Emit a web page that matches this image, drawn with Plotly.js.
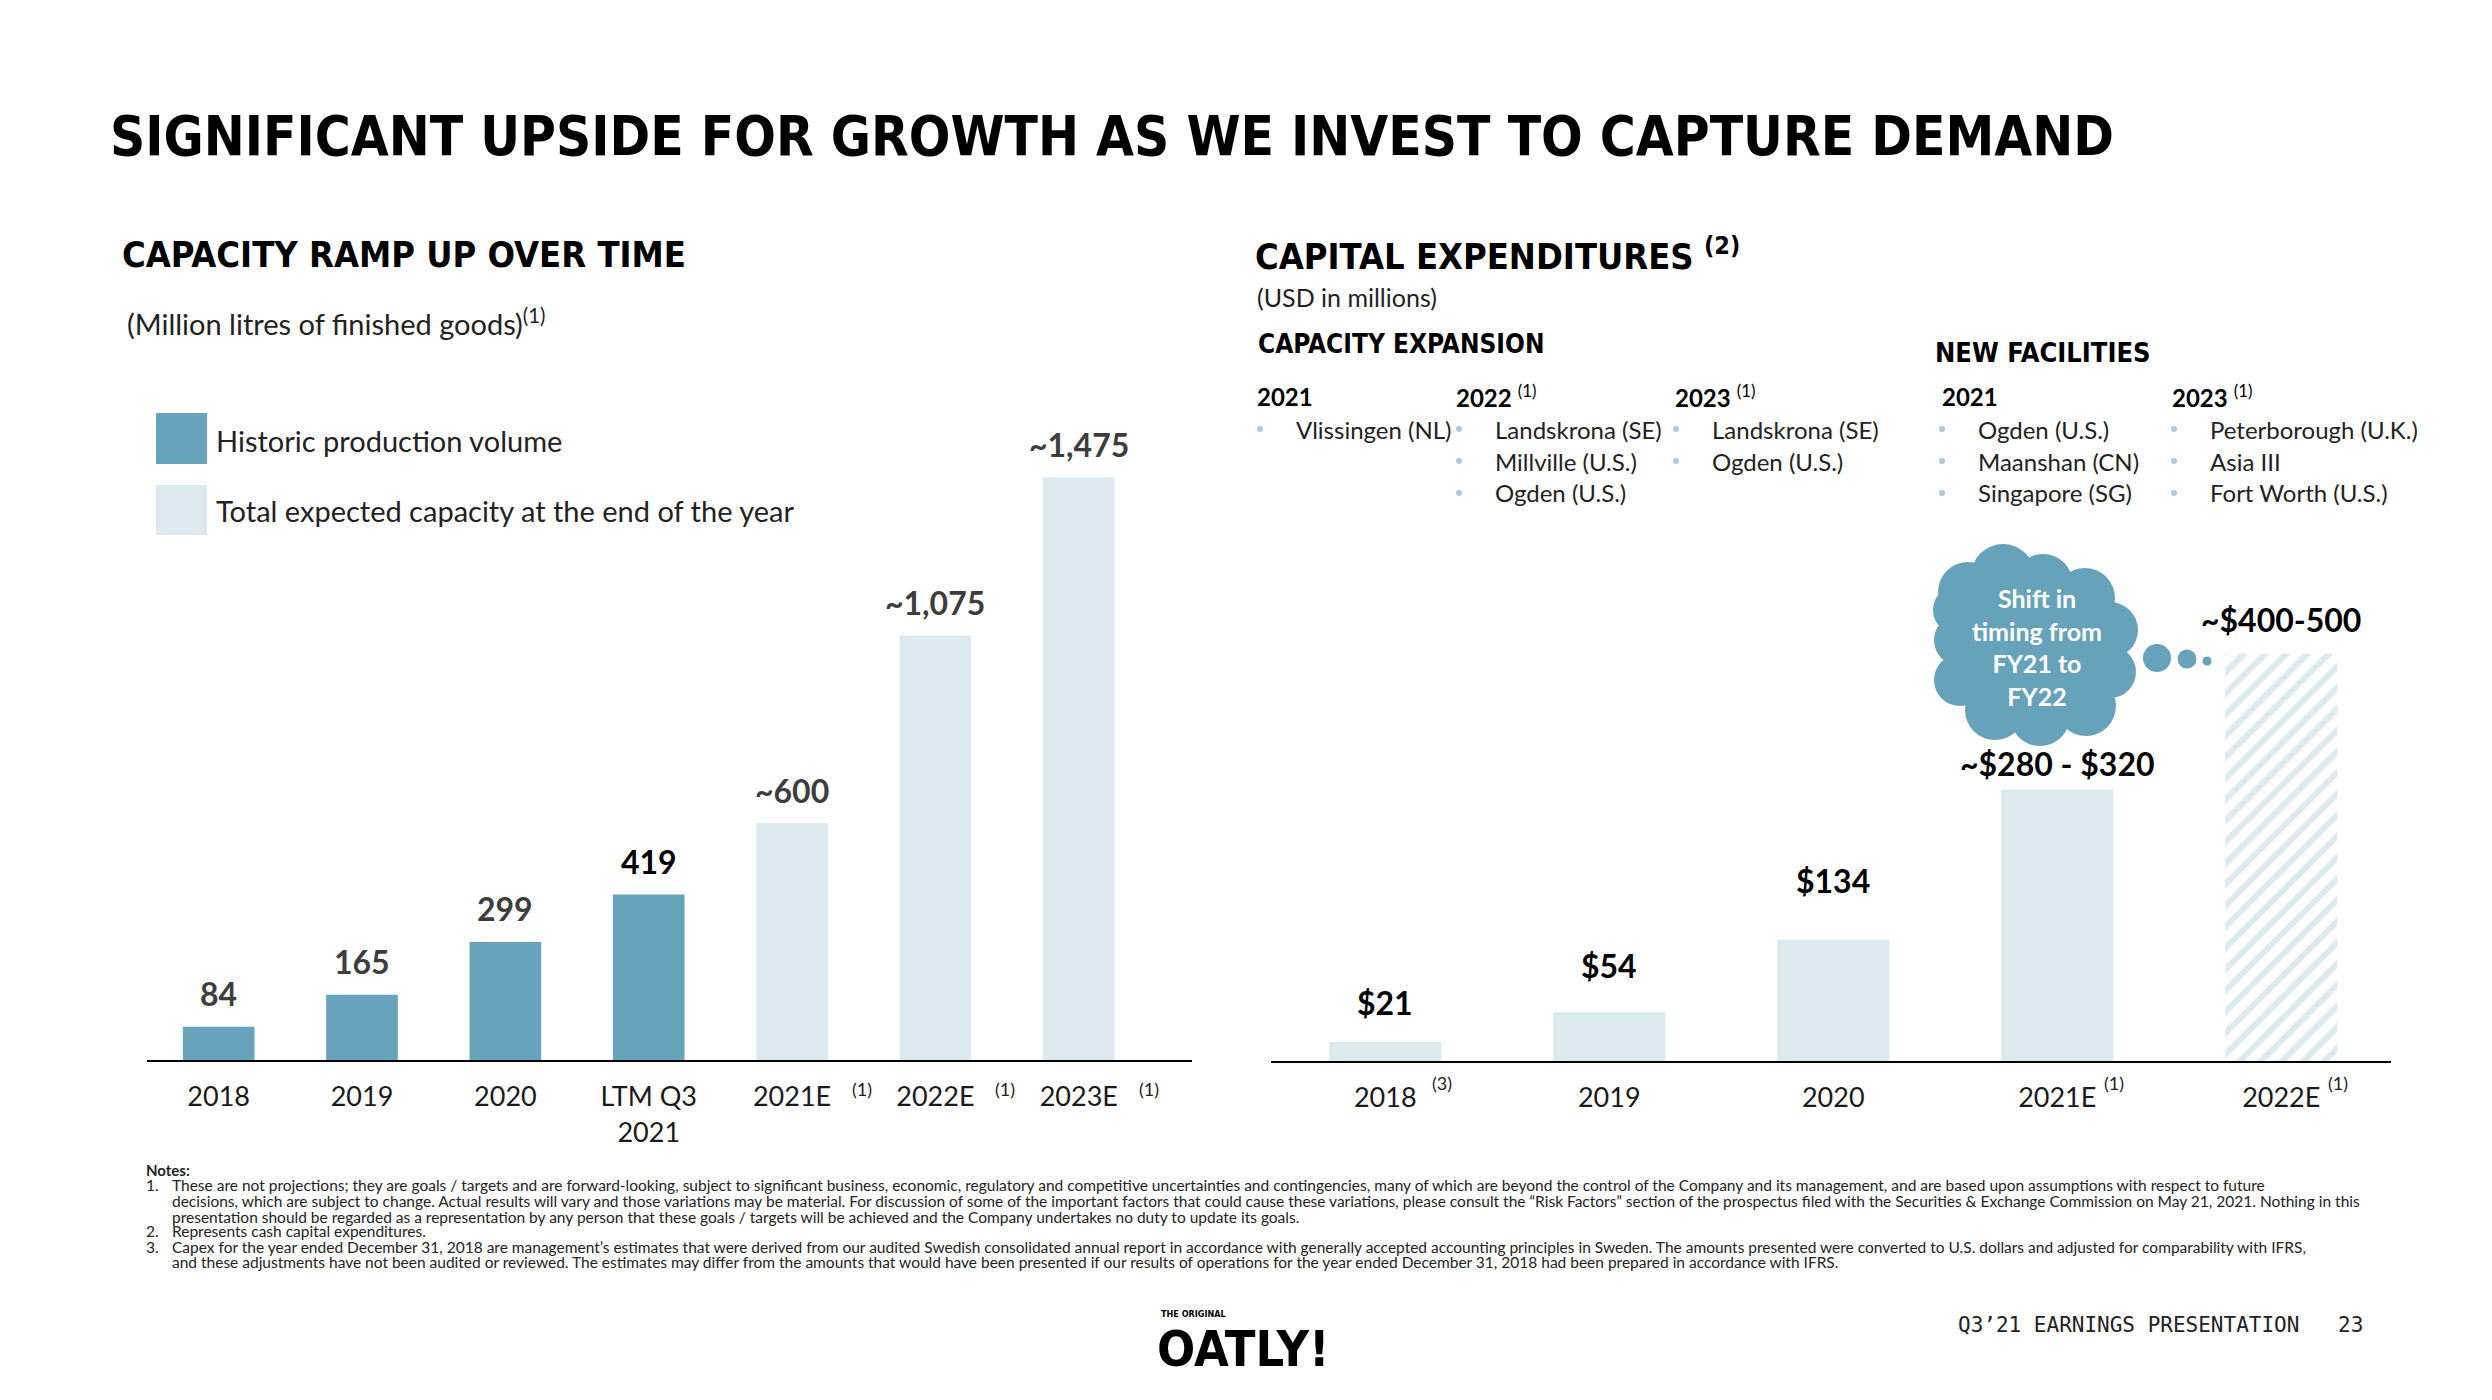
<!DOCTYPE html>
<html><head><meta charset="utf-8">
<script src="https://cdn.plot.ly/plotly-3.0.1.min.js"></script>
<style>html,body{margin:0;padding:0;background:#fff}#chart{width:2492px;height:1400px}</style>
</head><body><div id="chart"></div>
<script>
const W = 2492, H = 1400;

// ---------- Capacity ramp-up data (million litres) ----------
const capCategories = ["2018", "2019", "2020", "LTM Q3 2021", "2021E", "2022E", "2023E"];
const capTickLabels = ["2018", "2019", "2020", "LTM Q3<br>2021", "2021E", "2022E", "2023E"];
const historicCats = ["2018", "2019", "2020", "LTM Q3 2021"];
const historicValues = [84, 165, 299, 419];
const expectedCats = ["2021E", "2022E", "2023E"];
const expectedValues = [600, 1075, 1475];
const historicLabels = ["84", "165", "299", "419"];
const expectedLabels = ["~600", "~1,075", "~1,475"];
const capNoteCats = ["2021E", "2022E", "2023E"];

// ---------- Capital expenditures data (USD millions) ----------
const capexCategories = ["2018", "2019", "2020", "2021E", "2022E"];
const capexCats = ["2018", "2019", "2020", "2021E"];
const capexValues = [21, 54, 134, 300];
const capexPlanCats = ["2022E"];
const capexPlanValues = [450];
const capexLabels = ["$21", "$54", "$134", "~$280 - $320", "~$400-500"];
const capexNotes = ["(3)", "", "", "(1)", "(1)"];

// ---------- Facility lists ----------
const expansion2021 = ["Vlissingen (NL)"];
const expansion2022 = ["Landskrona (SE)", "Millville (U.S.)", "Ogden (U.S.)"];
const expansion2023 = ["Landskrona (SE)", "Ogden (U.S.)"];
const new2021 = ["Ogden (U.S.)", "Maanshan (CN)", "Singapore (SG)"];
const new2023 = ["Peterborough (U.K.)", "Asia III", "Fort Worth (U.S.)"];

const notes = [
  ["1.", "These are not projections; they are goals / targets and are forward-looking, subject to significant business, economic, regulatory and competitive uncertainties and contingencies, many of which are beyond the control of the Company and its management, and are based upon assumptions with respect to future"],
  ["", "decisions, which are subject to change. Actual results will vary and those variations may be material. For discussion of some of the important factors that could cause these variations, please consult the \u201cRisk Factors\u201d section of the prospectus filed with the Securities & Exchange Commission on May 21, 2021. Nothing in this"],
  ["", "presentation should be regarded as a representation by any person that these goals / targets will be achieved and the Company undertakes no duty to update its goals."],
  ["2.", "Represents cash capital expenditures."],
  ["3.", "Capex for the year ended December 31, 2018 are management\u2019s estimates that were derived from our audited Swedish consolidated annual report in accordance with generally accepted accounting principles in Sweden. The amounts presented were converted to U.S. dollars and adjusted for comparability with IFRS,"],
  ["", "and these adjustments have not been audited or reviewed. The estimates may differ from the amounts that would have been presented if our results of operations for the year ended December 31, 2018 had been prepared in accordance with IFRS."]
];

// ---------- styles ----------
const DARK = '#68a3bc', LIGHT = '#dce9ef', DOT = '#a9c9d7';
const DISPLAY = '"DejaVu Sans Condensed", "Liberation Sans Narrow", "DejaVu Sans", "Liberation Sans", sans-serif';
const BODY = 'Lato, "Open Sans", sans-serif';
const capexLabelShift = [40, 47, 59, 26, 34];

const px = x => x / W, py = y => 1 - y / H;
function txt(text, x, y, size, o) {
  o = o || {};
  return {xref: 'paper', yref: 'paper', x: px(x), y: py(y), text: text, showarrow: false,
    xanchor: o.xanchor || 'left', yanchor: 'middle', align: o.align || 'left',
    font: {family: o.family || BODY, size: size, color: o.color || '#1a1a1a'}};
}
function circ(cx, cy, r, color) {
  return {type: 'circle', xref: 'paper', yref: 'paper', x0: px(cx - r), x1: px(cx + r),
    y0: py(cy + r), y1: py(cy - r), fillcolor: color, line: {width: 0}, layer: 'above'};
}

const traces = [
  {type: 'bar', x: historicCats, y: historicValues, xaxis: 'x', yaxis: 'y', name: 'Historic production volume',
   marker: {color: DARK}, hoverinfo: 'skip', showlegend: false},
  {type: 'bar', x: expectedCats, y: expectedValues, xaxis: 'x', yaxis: 'y', name: 'Total expected capacity at the end of the year',
   marker: {color: LIGHT}, hoverinfo: 'skip', showlegend: false},
  {type: 'bar', x: capexCats, y: capexValues, xaxis: 'x2', yaxis: 'y2', name: 'Capex',
   marker: {color: LIGHT}, hoverinfo: 'skip', showlegend: false},
  {type: 'bar', x: capexPlanCats, y: capexPlanValues, xaxis: 'x2', yaxis: 'y2', name: 'Capex plan',
   marker: {color: 'white', pattern: {shape: '/', fgcolor: LIGHT, bgcolor: 'white', size: 15, solidity: 0.4}},
   hoverinfo: 'skip', showlegend: false}
];

const ann = [];
// titles
ann.push(txt('<b>SIGNIFICANT UPSIDE FOR GROWTH AS WE INVEST TO CAPTURE DEMAND</b>', 108, 136, 54.5, {family: DISPLAY, color: '#000'}));
ann.push(txt('<b>CAPACITY RAMP UP OVER TIME</b>', 120, 254, 36, {family: DISPLAY, color: '#000'}));
ann.push(txt('(Million litres of finished goods)<sup>(1)</sup>', 125, 322, 29, {color: '#222'}));
ann.push(txt('<b>CAPITAL EXPENDITURES</b> <sup><b>(2)</b></sup>', 1253, 254, 36, {family: DISPLAY, color: '#000'}));
ann.push(txt('(USD in millions)', 1255, 297, 25, {color: '#222'}));
ann.push(txt('<b>CAPACITY EXPANSION</b>', 1256, 344, 26, {family: DISPLAY, color: '#000'}));
ann.push(txt('<b>NEW FACILITIES</b>', 1933, 352, 27, {family: DISPLAY, color: '#000'}));

// legend
ann.push(txt('Historic production volume', 214, 440, 29, {color: '#222'}));
ann.push(txt('Total expected capacity at the end of the year', 214, 510, 29, {color: '#222'}));

// capacity bar labels (x given as category index)
historicCats.forEach((c, i) => ann.push({xref: 'x', yref: 'y', x: capCategories.indexOf(c), y: historicValues[i], yshift: 33,
  text: '<b>' + historicLabels[i] + '</b>', showarrow: false, yanchor: 'middle',
  font: {family: BODY, size: 32, color: i === 3 ? '#000' : '#3d3d3d'}}));
expectedCats.forEach((c, i) => ann.push({xref: 'x', yref: 'y', x: capCategories.indexOf(c), y: expectedValues[i], yshift: 33,
  text: '<b>' + expectedLabels[i] + '</b>', showarrow: false, yanchor: 'middle',
  font: {family: BODY, size: 32, color: '#3d3d3d'}}));
capNoteCats.forEach(c => ann.push({xref: 'x', yref: 'paper', x: capCategories.indexOf(c), y: py(1089), xshift: 70, text: '(1)',
  showarrow: false, yanchor: 'middle', font: {family: BODY, size: 18, color: '#222'}}));

// capex bar labels
const capexAll = capexValues.concat(capexPlanValues);
capexCategories.forEach((c, i) => {
  ann.push({xref: 'x2', yref: 'y2', x: i, y: capexAll[i], yshift: capexLabelShift[i], text: '<b>' + capexLabels[i] + '</b>',
    showarrow: false, yanchor: 'middle', font: {family: BODY, size: 32, color: '#000'}});
  if (capexNotes[i]) ann.push({xref: 'x2', yref: 'paper', x: i, y: py(1083), xshift: 57, text: capexNotes[i], showarrow: false,
    yanchor: 'middle', font: {family: BODY, size: 18, color: '#222'}});
});

// facility columns
const shapes = [];
const cols = [
  {head: '<b>2021</b>', hx: 1257, dx: 1260, items: expansion2021},
  {head: '<b>2022</b> <sup>(1)</sup>', hx: 1456, dx: 1459, items: expansion2022},
  {head: '<b>2023</b> <sup>(1)</sup>', hx: 1675, dx: 1676, items: expansion2023},
  {head: '<b>2021</b>', hx: 1942, dx: 1942, items: new2021},
  {head: '<b>2023</b> <sup>(1)</sup>', hx: 2172, dx: 2174, items: new2023}
];
const rowY = [429, 461, 493];
cols.forEach(col => {
  ann.push(txt(col.head, col.hx - 2, 396, 24, {color: '#000'}));
  col.items.forEach((it, j) => {
    shapes.push(circ(col.dx, rowY[j], 3, DOT));
    ann.push(txt(it, col.dx + 34, rowY[j], 24, {color: '#222'}));
  });
});

// legend squares
shapes.push({type: 'rect', xref: 'paper', yref: 'paper', x0: px(156), x1: px(207), y0: py(464), y1: py(413), fillcolor: DARK, line: {width: 0}});
shapes.push({type: 'rect', xref: 'paper', yref: 'paper', x0: px(156), x1: px(207), y0: py(535), y1: py(485), fillcolor: LIGHT, line: {width: 0}});

// thought cloud
const CLOUD = '#67a2bb';
[[2036, 650, 80], [1968, 592, 30], [2003, 576, 32], [2043, 584, 30], [2085, 598, 30], [2110, 630, 28],
 [2110, 672, 26], [2086, 706, 30], [2040, 716, 30], [1995, 710, 30], [1960, 680, 26], [1960, 640, 26], [1957, 610, 24],
 [2000, 650, 50], [2070, 650, 50]].forEach(c => shapes.push(circ(c[0], c[1], c[2], CLOUD)));
shapes.push(circ(2157, 658, 14, CLOUD));
shapes.push(circ(2187, 659, 9.5, CLOUD));
shapes.push(circ(2207, 661, 4.5, CLOUD));
ann.push(txt('<b>Shift in<br>timing from<br>FY21 to<br>FY22</b>', 2037, 647, 25, {xanchor: 'center', align: 'center', color: '#fff'}));

// footnotes
ann.push(txt('<b>Notes:</b>', 144, 1170, 15, {color: '#222'}));
const noteY = [1185, 1201, 1217, 1231, 1247, 1262];
notes.forEach((n, i) => {
  if (n[0]) ann.push(txt(n[0], 144, noteY[i], 15.5, {color: '#222'}));
  ann.push(txt(n[1], 170, noteY[i], 15.5, {color: '#222'}));
});

// footer
ann.push(txt('<b>THE ORIGINAL</b>', 1159, 1314, 9, {family: DISPLAY, color: '#000'}));
ann.push(txt('<b>OATLY!</b>', 1155, 1349, 50, {family: DISPLAY, color: '#000'}));
ann.push(txt('Q3\u201921 EARNINGS PRESENTATION', 1956, 1325, 21, {family: '"DejaVu Sans Mono", monospace', color: '#222'}));
ann.push(txt('23', 2336, 1325, 21, {family: '"DejaVu Sans Mono", monospace', color: '#222'}));

const axisCommon = {type: 'category', showline: true, linecolor: '#000', linewidth: 2, ticks: '', showgrid: false,
  zeroline: false, fixedrange: true, tickfont: {family: BODY, size: 27, color: '#1a1a1a'}, ticklabelstandoff: 12};

const layout = {
  width: W, height: H, margin: {l: 0, r: 0, t: 0, b: 0}, paper_bgcolor: '#fff', plot_bgcolor: 'rgba(0,0,0,0)',
  barmode: 'overlay', bargap: 0.5, showlegend: false,
  xaxis: Object.assign({}, axisCommon, {domain: [px(147), px(1192)], anchor: 'y', categoryorder: 'array',
    categoryarray: capCategories, range: [-0.5, 6.79], tickvals: capCategories, ticktext: capTickLabels}),
  yaxis: {domain: [py(1060), py(428)], range: [0, 1600], visible: false, fixedrange: true, anchor: 'x'},
  xaxis2: Object.assign({}, axisCommon, {domain: [px(1271), px(2391)], anchor: 'y2', categoryorder: 'array',
    categoryarray: capexCategories, range: [-0.51, 4.49], tickvals: capexCategories, ticktext: capexCategories}),
  yaxis2: {domain: [py(1061), py(608.5)], range: [0, 500], visible: false, fixedrange: true, anchor: 'x2'},
  annotations: ann, shapes: shapes
};

Plotly.newPlot('chart', traces, layout, {displayModeBar: false, staticPlot: true});
</script></body></html>
